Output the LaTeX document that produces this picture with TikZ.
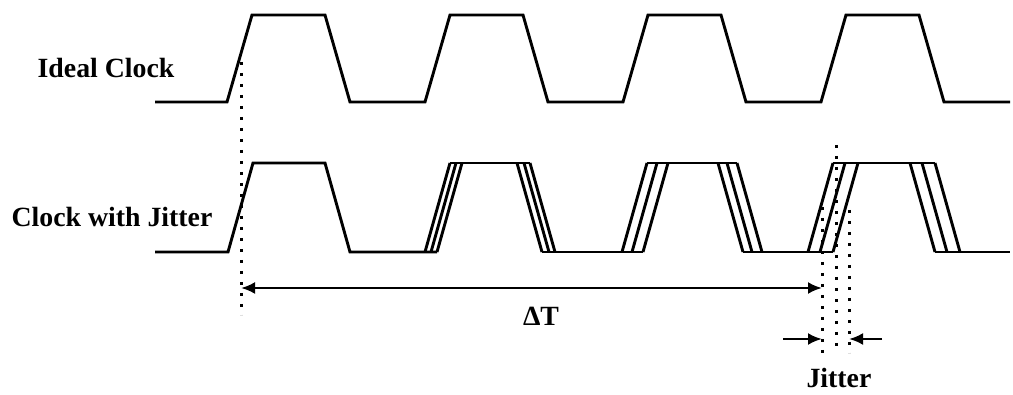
\documentclass[tikz,border=0pt]{standalone}
\usepackage{fontspec}
\setmainfont{Liberation Serif}
\usepackage{tikz}
\usetikzlibrary{arrows.meta}
\tikzset{
  wave/.style={line width=1.45pt, line join=miter},
  refline/.style={line width=1.5pt, dash pattern=on 1.5pt off 4pt},
  measure/.style={line width=1.3pt, -{Latex[length=7pt, width=6pt]}},
  lbl/.style={font=\fontsize{13.9}{16}\selectfont\bfseries, inner sep=0pt, anchor=base},
}
%% one jittered pulse: three rising edges (#1-#3), three falling edges (#4-#6)
\newcommand{\jitterpulse}[6]{%
  \draw[wave] (#1,252) -- ++(25,-89);
  \draw[wave] (#2,252) -- ++(25,-89);
  \draw[wave] (#3,252) -- ++(25,-89);
  \draw[wave] ({#1+25},163) -- ({#6-25},163);
  \draw[wave] (#4,252) -- ++(-25,-89);
  \draw[wave] (#5,252) -- ++(-25,-89);
  \draw[wave] (#6,252) -- ++(-25,-89);
}

\begin{document}
\begin{tikzpicture}[x=0.5pt, y=-0.5pt]

  \useasboundingbox (0,0) rectangle (1013,395);

  %% labels
  \node[lbl] (ideal) at (106,78) {Ideal Clock};
  \node[lbl] (jittered) at (112,227) {Clock with Jitter};

  %% Ideal clock: period 198
  \draw[wave] (155,102)
    foreach \k in {0,1,2,3} {
      -- ({227+198*\k},102) -- ({252+198*\k},15)
      -- ({325+198*\k},15) -- ({350+198*\k},102)
    } -- (1010,102);

  %% Clock with jitter
  \draw[wave] (155,252) -- (228,252) -- (253,163) -- (325,163) -- (350,252) -- (437,252);
  \jitterpulse{425}{431}{437}{542}{549}{555}
  \draw[wave] (542,252) -- (643,252);
  \jitterpulse{622}{632}{643}{743}{752}{762}
  \draw[wave] (743,252) -- (833,252);
  \jitterpulse{808}{820}{833}{935}{947}{960}
  \draw[wave] (935,252) -- (1010,252);

  %% reference lines
  \coordinate (refA) at (241,62);
  \coordinate (refB) at (241,315);
  \coordinate (earlyA) at (822,207);
  \coordinate (earlyB) at (822,353);
  \coordinate (idealA) at (836,145);
  \coordinate (idealB) at (836,353);
  \coordinate (lateA) at (849,210);
  \coordinate (lateB) at (849,353);
  \draw[refline] (refA) -- (refB);
  \draw[refline] (earlyA) -- (earlyB);
  \draw[refline] (idealA) -- (idealB);
  \draw[refline] (lateA) -- (lateB);

  %% Delta T
  \coordinate (dtL) at (241,288);
  \coordinate (dtR) at (822,288);
  \draw[measure, {Latex[length=7pt, width=6pt]}-{Latex[length=7pt, width=6pt]}] (dtL) -- (dtR);
  \node[lbl] (dt) at (541,326) {ΔT};

  %% Jitter
  \coordinate (jinL) at (783,339);
  \coordinate (jinR) at (882,339);
  \draw[measure] (jinL) -- (jinL -| earlyB);
  \draw[measure] (jinR) -- (jinR -| lateB);
  \node[lbl] (jitter) at (839,388) {Jitter};

\end{tikzpicture}
\end{document}
